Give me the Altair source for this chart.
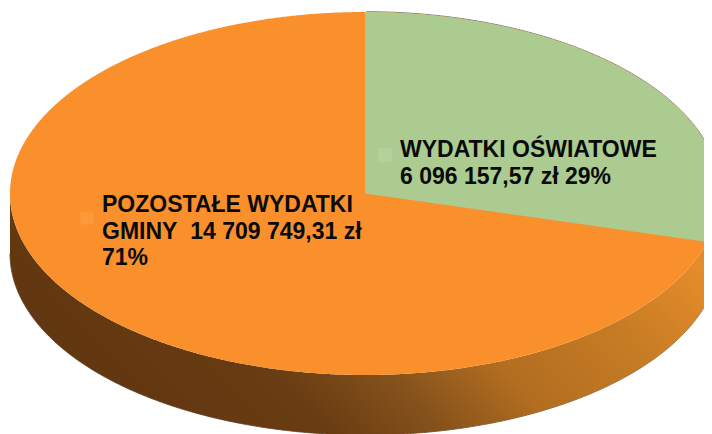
import altair as alt
import numpy as np
import pandas as pd

categories = ["WYDATKI OŚWIATOWE", "POZOSTAŁE WYDATKI GMINY"]
values = [6096157.57, 14709749.31]
green_lines = ["WYDATKI OŚWIATOWE", "6 096 157,57 zł 29%"]
orange_lines = ["POZOSTAŁE WYDATKI", "GMINY\u00a0\u00a014 709 749,31 zł", "71%"]

GREEN, ORANGE = "#ABCB90", "#F9902C"
CX, CY, RX, RY, DEPTH = 365.0, 193.5, 355.0, 181.5, 60.0
share = values[0] / sum(values)
end = share * 2 * np.pi
xe = CX + RX * np.sin(end)
ye = CY - RY * np.cos(end)


def ell_top(x):
    return CY - RY * np.sqrt(np.clip(1 - ((x - CX) / RX) ** 2, 0, 1))


def ell_bot(x):
    return CY + RY * np.sqrt(np.clip(1 - ((x - CX) / RX) ** 2, 0, 1))


t = np.linspace(-np.pi / 2, np.pi / 2, 721)
xs = CX + RX * np.sin(t)

W, H = 696, 426
X = alt.X("x:Q", scale=alt.Scale(domain=[8, 8 + W], nice=False, zero=False), axis=None)
Y = alt.Y("y:Q", scale=alt.Scale(domain=[8 + H, 8], nice=False, zero=False), axis=None)

top_df = pd.DataFrame({"x": xs, "y": ell_top(xs), "y2": ell_bot(xs)})
top = alt.Chart(top_df).mark_area(color=ORANGE, clip=True).encode(X, Y, y2="y2:Q")

xg = np.concatenate([[CX], xs[xs > CX]])
xg = np.sort(np.append(xg, [xe]))
yg_low = np.where(xg <= xe, CY + (ye - CY) * (xg - CX) / (xe - CX), ell_bot(xg))
wedge_df = pd.DataFrame({"x": xg, "y": ell_top(xg), "y2": yg_low})
wedge = alt.Chart(wedge_df).mark_area(color=GREEN, clip=True).encode(X, Y, y2="y2:Q")

xo = np.sort(np.append(xs[xs < xe], [xe]))
wall_df = pd.DataFrame({"x": xo, "y": ell_bot(xo), "y2": ell_bot(xo) + DEPTH})
wall = alt.Chart(wall_df).mark_area(
    clip=True,
    color=alt.Gradient(
        gradient="linear", x1=0, x2=1, y1=0.66, y2=0.34,
        stops=[
            alt.GradientStop(color="#5F3510", offset=0.0),
            alt.GradientStop(color="#693C12", offset=0.32),
            alt.GradientStop(color="#85521B", offset=0.47),
            alt.GradientStop(color="#B26D20", offset=0.62),
            alt.GradientStop(color="#C67C24", offset=0.82),
            alt.GradientStop(color="#E58C2A", offset=1.0),
        ],
    ),
).encode(X, Y, y2="y2:Q")

xw = np.sort(np.append(xs[xs > xe], [xe]))
side_df = pd.DataFrame({"x": xw, "y": ell_bot(xw), "y2": ell_bot(xw) + DEPTH})
side = alt.Chart(side_df).mark_area(color="#7E9E68", clip=True).encode(X, Y, y2="y2:Q")

rim_x = xs[(xs > CX) & (xs < xe)]
rim = alt.Chart(pd.DataFrame({"x": rim_x, "y": ell_top(rim_x) - 0.3})).mark_line(
    color="#3A3A30", strokeWidth=0.7, clip=True
).encode(X, Y)
rim2 = alt.Chart(pd.DataFrame({"x": xs, "y": ell_bot(xs) + DEPTH})).mark_line(
    color="#2A1A08", strokeWidth=0.7, clip=True
).encode(X, Y)

key_g = alt.Chart(pd.DataFrame({"c": [categories[0]]})).mark_square(
    color="#B3D19A", size=190, opacity=1
).encode(x=alt.value(377), y=alt.value(147))
key_o = alt.Chart(pd.DataFrame({"c": [categories[1]]})).mark_square(
    color="#FB9A38", size=170, opacity=1
).encode(x=alt.value(79), y=alt.value(210))

font = dict(font="Liberation Sans", fontWeight="bold", fontSize=23, color="#0A0A0A", align="left", baseline="alphabetic")
txt_g = alt.Chart(pd.DataFrame({"t": green_lines, "i": range(2)})).mark_text(**font).encode(
    x=alt.value(392), y=alt.Y("py:Q", scale=None), text="t:N"
).transform_calculate(py="149 + 27 * datum.i")
txt_o = alt.Chart(pd.DataFrame({"t": orange_lines, "i": range(3)})).mark_text(**font).encode(
    x=alt.value(94), y=alt.Y("py:Q", scale=None), text="t:N"
).transform_calculate(py="204 + 26.7 * datum.i")

chart = (
    alt.layer(rim, rim2, side, wall, top, wedge, key_g, key_o, txt_g, txt_o)
    .properties(width=W, height=H, padding=0, background="white", autosize=alt.AutoSizeParams(type="none"))
    .configure_view(strokeWidth=0, strokeOpacity=0)
)
chart.save("out.html", embed_options={"renderer": "svg", "actions": False})
